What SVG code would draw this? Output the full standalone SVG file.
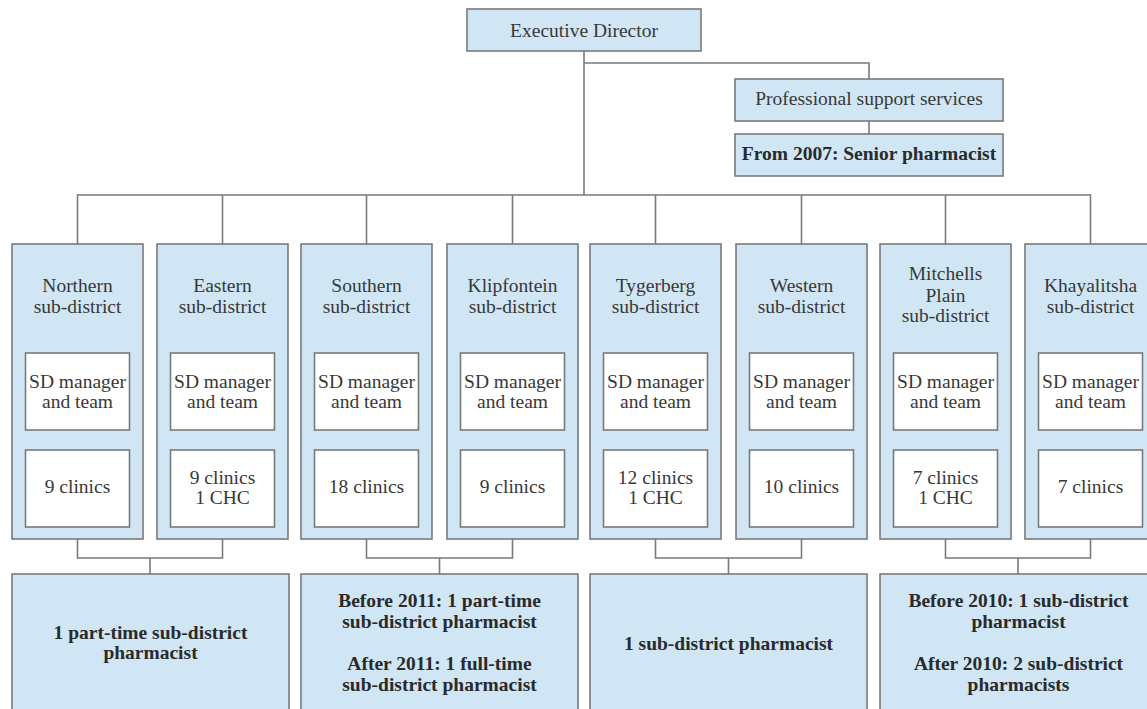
<svg xmlns="http://www.w3.org/2000/svg" width="1147" height="709" viewBox="0 0 1147 709">
  <style>
    .box { fill: #d0e6f4; stroke: #7a7a7a; stroke-width: 1.6; }
    .inner { fill: #ffffff; stroke: #7a7a7a; stroke-width: 1.6; }
    .wire { fill: none; stroke: #7a7a7a; stroke-width: 1.6; }
    text { font-family: "Liberation Serif", "DejaVu Serif", serif; font-size: 19.5px; fill: #383838; text-anchor: middle; }
    .b { font-weight: bold; fill: #2a2a2a; }
  </style>
  <rect width="1147" height="709" fill="#ffffff"/>

  <!-- connectors -->
  <g id="connectors" class="wire">
    <path d="M584 51 V195"/>
    <path d="M584 63 H869 V79"/>
    <path d="M869 121 V134"/>
    <path d="M77.5 244 V195 H1090.5 V244"/>
    <path d="M222.5 195 V244 M366.5 195 V244 M512.5 195 V244 M655.5 195 V244 M801.5 195 V244 M945.5 195 V244"/>
    <!-- sub-district pairs to pharmacist boxes -->
    <path d="M77.5 539 V558 H222.5 V539 M150 558 V574"/>
    <path d="M366.5 539 V558 H512.5 V539 M439.5 558 V574"/>
    <path d="M655.5 539 V558 H801.5 V539 M728.5 558 V574"/>
    <path d="M945.5 539 V558 H1090.5 V539 M1018 558 V574"/>
  </g>

  <g id="executive-director">
    <rect class="box" x="467" y="9" width="234" height="42"/>
    <text x="584" y="37">Executive Director</text>
  </g>
  <g id="professional-support">
    <rect class="box" x="735" y="79" width="268" height="42"/>
    <text x="869" y="105">Professional support services</text>
  </g>
  <g id="senior-pharmacist">
    <rect class="box" x="735" y="134" width="268" height="42"/>
    <text class="b" x="869" y="160">From 2007: Senior pharmacist</text>
  </g>

  <g id="northern">
    <rect class="box" x="12" y="244" width="131" height="295"/>
    <text x="77.5" y="292">Northern</text>
    <text x="77.5" y="313">sub-district</text>
    <rect class="inner" x="25.5" y="353" width="104" height="77"/>
    <text x="77.5" y="388">SD manager</text>
    <text x="77.5" y="408">and team</text>
    <rect class="inner" x="25.5" y="450" width="104" height="77"/>
    <text x="77.5" y="493">9 clinics</text>
  </g>
  <g id="eastern">
    <rect class="box" x="157" y="244" width="131" height="295"/>
    <text x="222.5" y="292">Eastern</text>
    <text x="222.5" y="313">sub-district</text>
    <rect class="inner" x="170.5" y="353" width="104" height="77"/>
    <text x="222.5" y="388">SD manager</text>
    <text x="222.5" y="408">and team</text>
    <rect class="inner" x="170.5" y="450" width="104" height="77"/>
    <text x="222.5" y="484">9 clinics</text>
    <text x="222.5" y="504">1 CHC</text>
  </g>
  <g id="southern">
    <rect class="box" x="301" y="244" width="131" height="295"/>
    <text x="366.5" y="292">Southern</text>
    <text x="366.5" y="313">sub-district</text>
    <rect class="inner" x="314.5" y="353" width="104" height="77"/>
    <text x="366.5" y="388">SD manager</text>
    <text x="366.5" y="408">and team</text>
    <rect class="inner" x="314.5" y="450" width="104" height="77"/>
    <text x="366.5" y="493">18 clinics</text>
  </g>
  <g id="klipfontein">
    <rect class="box" x="447" y="244" width="131" height="295"/>
    <text x="512.5" y="292">Klipfontein</text>
    <text x="512.5" y="313">sub-district</text>
    <rect class="inner" x="460.5" y="353" width="104" height="77"/>
    <text x="512.5" y="388">SD manager</text>
    <text x="512.5" y="408">and team</text>
    <rect class="inner" x="460.5" y="450" width="104" height="77"/>
    <text x="512.5" y="493">9 clinics</text>
  </g>
  <g id="tygerberg">
    <rect class="box" x="590" y="244" width="131" height="295"/>
    <text x="655.5" y="292">Tygerberg</text>
    <text x="655.5" y="313">sub-district</text>
    <rect class="inner" x="603.5" y="353" width="104" height="77"/>
    <text x="655.5" y="388">SD manager</text>
    <text x="655.5" y="408">and team</text>
    <rect class="inner" x="603.5" y="450" width="104" height="77"/>
    <text x="655.5" y="484">12 clinics</text>
    <text x="655.5" y="504">1 CHC</text>
  </g>
  <g id="western">
    <rect class="box" x="736" y="244" width="131" height="295"/>
    <text x="801.5" y="292">Western</text>
    <text x="801.5" y="313">sub-district</text>
    <rect class="inner" x="749.5" y="353" width="104" height="77"/>
    <text x="801.5" y="388">SD manager</text>
    <text x="801.5" y="408">and team</text>
    <rect class="inner" x="749.5" y="450" width="104" height="77"/>
    <text x="801.5" y="493">10 clinics</text>
  </g>
  <g id="mitchells-plain">
    <rect class="box" x="880" y="244" width="131" height="295"/>
    <text x="945.5" y="280">Mitchells</text>
    <text x="945.5" y="302">Plain</text>
    <text x="945.5" y="322">sub-district</text>
    <rect class="inner" x="893.5" y="353" width="104" height="77"/>
    <text x="945.5" y="388">SD manager</text>
    <text x="945.5" y="408">and team</text>
    <rect class="inner" x="893.5" y="450" width="104" height="77"/>
    <text x="945.5" y="484">7 clinics</text>
    <text x="945.5" y="504">1 CHC</text>
  </g>
  <g id="khayalitsha">
    <rect class="box" x="1025" y="244" width="131" height="295"/>
    <text x="1090.5" y="292">Khayalitsha</text>
    <text x="1090.5" y="313">sub-district</text>
    <rect class="inner" x="1038.5" y="353" width="104" height="77"/>
    <text x="1090.5" y="388">SD manager</text>
    <text x="1090.5" y="408">and team</text>
    <rect class="inner" x="1038.5" y="450" width="104" height="77"/>
    <text x="1090.5" y="493">7 clinics</text>
  </g>

  <g id="pharmacist-north-east">
    <rect class="box" x="12" y="574" width="277" height="150"/>
    <text class="b" x="150.5" y="639">1 part-time sub-district</text>
    <text class="b" x="150.5" y="659">pharmacist</text>
  </g>
  <g id="pharmacist-south-klipfontein">
    <rect class="box" x="301" y="574" width="277" height="150"/>
    <text class="b" x="439.5" y="607">Before 2011: 1 part-time</text>
    <text class="b" x="439.5" y="628">sub-district pharmacist</text>
    <text class="b" x="439.5" y="670">After 2011: 1 full-time</text>
    <text class="b" x="439.5" y="691">sub-district pharmacist</text>
  </g>
  <g id="pharmacist-tygerberg-western">
    <rect class="box" x="590" y="574" width="277" height="150"/>
    <text class="b" x="728.5" y="650">1 sub-district pharmacist</text>
  </g>
  <g id="pharmacist-mitchells-khayalitsha">
    <rect class="box" x="880" y="574" width="277" height="150"/>
    <text class="b" x="1018.5" y="607">Before 2010: 1 sub-district</text>
    <text class="b" x="1018.5" y="628">pharmacist</text>
    <text class="b" x="1018.5" y="670">After 2010: 2 sub-district</text>
    <text class="b" x="1018.5" y="691">pharmacists</text>
  </g>
</svg>
